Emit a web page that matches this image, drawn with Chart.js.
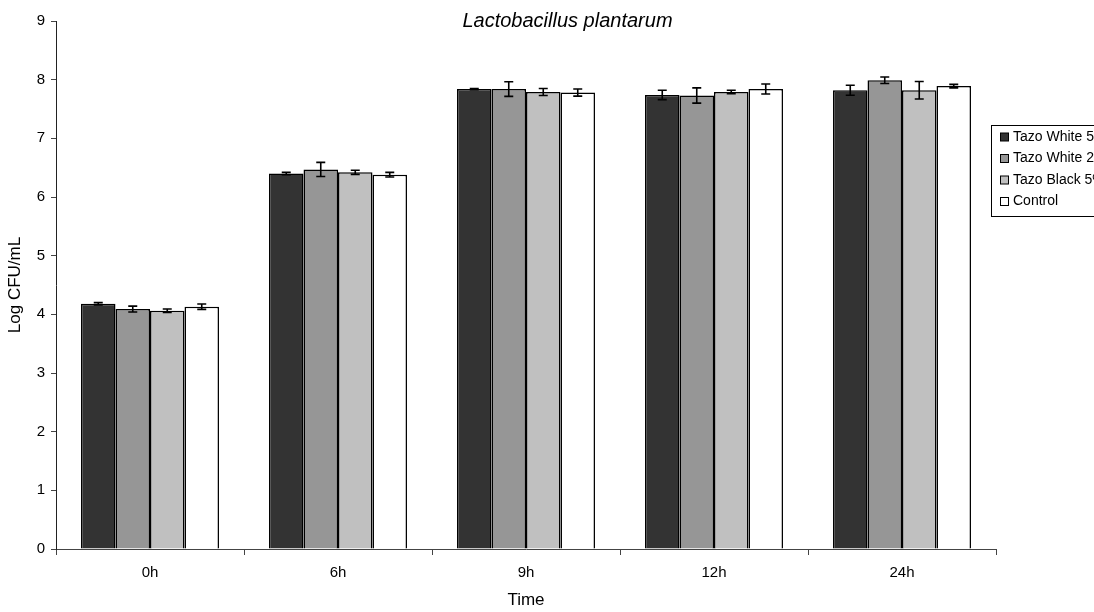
<!DOCTYPE html>
<html>
<head>
<meta charset="utf-8">
<script src="https://cdn.jsdelivr.net/npm/chart.js@4.4.1/dist/chart.umd.min.js"></script>
<style>
  html, body { margin: 0; padding: 0; background: #ffffff; }
  #wrap { width: 1094px; height: 612px; position: relative; }
</style>
</head>
<body>
<div id="wrap"><canvas id="chart" width="1094" height="612"></canvas></div>
<script>
// Sampling times (x categories)
const timePoints = ['0h', '6h', '9h', '12h', '24h'];

// Series names
const seriesNames = ['Tazo White 5%', 'Tazo White 2.5%', 'Tazo Black 5%', 'Control'];

// Mean log CFU/mL per series
const tazoWhite5 = [4.18, 6.40, 7.84, 7.74, 7.82];
const tazoWhite25 = [4.09, 6.47, 7.84, 7.73, 7.99];
const tazoBlack5 = [4.06, 6.42, 7.79, 7.79, 7.82];
const control = [4.13, 6.38, 7.78, 7.84, 7.89];

// Standard deviations per series
const errWhite5 = [0.02, 0.02, 0.01, 0.08, 0.085];
const errWhite25 = [0.05, 0.12, 0.125, 0.13, 0.055];
const errBlack5 = [0.03, 0.035, 0.06, 0.03, 0.15];
const errControl = [0.045, 0.04, 0.06, 0.085, 0.03];

// Y axis tick range
const yMin = 0;
const yMax = 9;
const yStep = 1;

const fillColors = ['#333333', '#969696', '#c0c0c0', '#ffffff'];
const seriesValues = [tazoWhite5, tazoWhite25, tazoBlack5, control];
const seriesErrors = [errWhite5, errWhite25, errBlack5, errControl];

const FONT = '"Liberation Sans", Arial, sans-serif';

// Whiskers drawn on top of each bar
const errorBarPlugin = {
  id: 'errorBars',
  afterDatasetsDraw(chart) {
    const ctx = chart.ctx;
    const yScale = chart.scales.y;
    ctx.save();
    ctx.strokeStyle = '#000000';
    ctx.lineWidth = 1.6;
    chart.data.datasets.forEach((ds, i) => {
      const meta = chart.getDatasetMeta(i);
      meta.data.forEach((bar, j) => {
        const v = ds.data[j];
        const e = ds.errors[j];
        const yTop = yScale.getPixelForValue(v + e);
        const yBot = yScale.getPixelForValue(v - e);
        const x = bar.x;
        const cap = 4.5;
        ctx.beginPath();
        ctx.moveTo(x, yTop); ctx.lineTo(x, yBot);
        ctx.moveTo(x - cap, yTop); ctx.lineTo(x + cap, yTop);
        ctx.moveTo(x - cap, yBot); ctx.lineTo(x + cap, yBot);
        ctx.stroke();
      });
    });
    ctx.restore();
  }
};

// Chart title and boxed legend on the right
const decorPlugin = {
  id: 'decor',
  afterDraw(chart) {
    const ctx = chart.ctx;
    ctx.save();
    ctx.fillStyle = '#000000';
    ctx.font = 'italic 20px ' + FONT;
    ctx.textAlign = 'center';
    ctx.textBaseline = 'alphabetic';
    ctx.fillText('Lactobacillus plantarum', 567.5, 26.5);

    // legend frame
    ctx.strokeStyle = '#000000';
    ctx.lineWidth = 1;
    ctx.strokeRect(991.5, 125.5, 200, 91);
    ctx.font = '14px ' + FONT;
    ctx.textAlign = 'left';
    ctx.textBaseline = 'middle';
    chart.data.datasets.forEach((ds, i) => {
      const cy = 137 + i * 21.5;
      ctx.fillStyle = ds.backgroundColor;
      ctx.fillRect(1000.5, cy - 4, 8, 8);
      ctx.strokeStyle = '#000000';
      ctx.strokeRect(1000.5, cy - 4, 8, 8);
      ctx.fillStyle = '#000000';
      ctx.fillText(ds.label, 1013, cy);
    });
    ctx.restore();
  }
};

const datasets = seriesNames.map((name, i) => ({
  label: name,
  data: seriesValues[i],
  errors: seriesErrors[i],
  backgroundColor: fillColors[i],
  borderColor: '#000000',
  borderWidth: 1.5,
  categoryPercentage: 0.734,
  barPercentage: 1.0
}));

new Chart(document.getElementById('chart'), {
  type: 'bar',
  data: { labels: timePoints, datasets },
  plugins: [errorBarPlugin, decorPlugin],
  options: {
    responsive: false,
    animation: false,
    devicePixelRatio: 1,
    layout: { padding: { left: 0, right: 98, top: 21, bottom: 0 } },
    plugins: {
      legend: { display: false },
      title: { display: false },
      tooltip: { enabled: false }
    },
    scales: {
      x: {
        afterFit(s) { s.height = 63; },
        grid: { drawOnChartArea: false, drawTicks: true, tickLength: 6, color: '#444444', offset: true },
        border: { display: true, color: '#444444', width: 1 },
        ticks: { color: '#000000', font: { family: FONT, size: 15 }, padding: 9 },
        title: { display: true, text: 'Time', color: '#000000', font: { family: FONT, size: 17 }, padding: { top: 0, bottom: 1 } }
      },
      y: {
        min: yMin,
        max: yMax,
        afterFit(s) { s.width = 56; },
        grid: { drawOnChartArea: false, drawTicks: true, tickLength: 5, color: '#444444' },
        border: { display: true, color: '#222222', width: 1 },
        ticks: { stepSize: yStep, color: '#000000', font: { family: FONT, size: 15 }, padding: 6 },
        title: { display: true, text: 'Log CFU/mL', color: '#000000', font: { family: FONT, size: 17 }, padding: { top: 5, bottom: 0 } }
      }
    }
  }
});
</script>
</body>
</html>
